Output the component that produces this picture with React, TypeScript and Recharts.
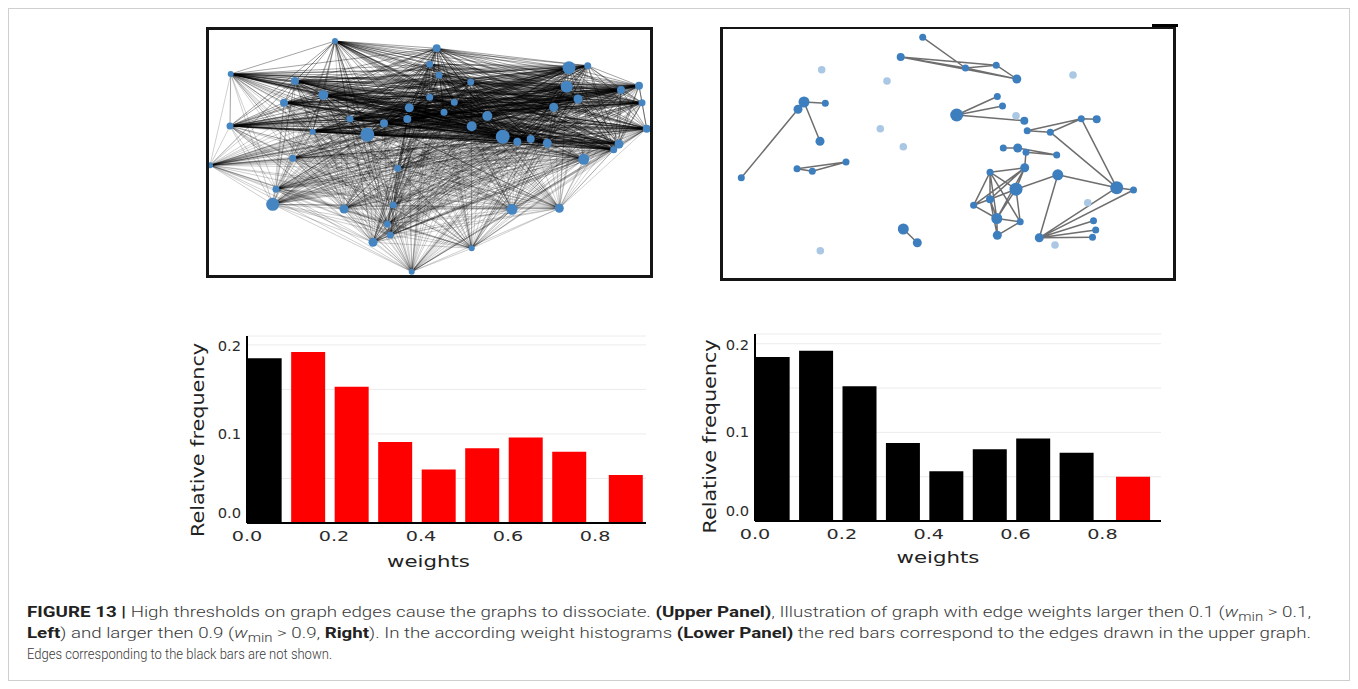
import React from 'react';
import {
  ComposedChart,
  Line,
  Scatter,
  XAxis,
  YAxis,
  BarChart,
  Bar,
  Cell,
  CartesianGrid,
  Label,
} from 'recharts';

// upper panel, left graph (w_min > 0.1): node layout in frame px
const denseX = [129, 24.7, 89, 117.3, 78, 24, 106.7, 144, 161.3, 178, 201.3, 203.3, 223.7, 223.7, 4, 86.7, 191.7, 70, 66.7, 138, 187.3, 181.3, 184.3, 167, 205.7,
  230.7, 233, 264.7, 248.3, 238, 281.3, 265.7, 296.7, 311.3, 324.7, 341.3, 363, 381.7, 360.7, 372, 347.7, 415, 433, 436, 440.7, 413, 407.7, 377.7, 306, 353.3, 265.7];
const denseY = [14, 47, 54, 68, 75.7, 99, 104.7, 92, 107.7, 96.3, 92, 80.7, 37.3, 70.3, 138.3, 131.3, 141.3, 162.3, 177.3, 182, 178, 197, 208, 215.3, 244.7,
  21.3, 48.3, 55, 75.3, 85.3, 89, 99.3, 109.7, 114.7, 112, 116.3, 40.7, 38.7, 59.7, 72, 80.3, 63, 58.7, 75.7, 101.7, 117, 122.7, 132.3, 182.3, 181.3, 221.3];
const denseSize = [3, 3, 4, 5, 4, 3.5, 3, 3.5, 7, 4, 4, 4.5, 3.5, 3.5, 3, 3.5, 3.5, 3.5, 6.5, 4.5, 3.5, 3.5, 3.5, 4.5, 3,
  4, 3.5, 3.5, 3.5, 3.5, 5, 5, 7, 4, 4, 4.5, 6.5, 3.5, 6, 4.5, 4.5, 4, 4, 3.5, 4, 4.5, 3.5, 5.5, 5.5, 4.5, 3];
// nodes above this line sit in the dark, strongly connected band
const CORE_BAND = 125;

// upper panel, right graph (w_min > 0.9)
const sparseX = [202.7, 180.7, 245.5, 276.2, 296.8, 84, 105.3, 78, 100, 126, 77, 92.3, 21.3, 183.3, 197.3, 236.7, 277.3, 282.5, 304.3, 307.2, 330.3,
  361.3, 376.7, 283.3, 297.7, 306, 336.7, 304.7, 270, 337.8, 296, 396.7, 413.5, 270, 253.6, 276.8, 300.2, 373.5, 375.7, 372.5, 277.3, 319.3];
const sparseY = [10.3, 30, 41, 38.2, 52, 75, 76.3, 82.3, 114.3, 135, 141.7, 144.3, 150.7, 202, 215.7, 88, 69.5, 79, 93.7, 103.8, 105.2,
  91.7, 92.2, 121, 121, 125.2, 128, 140.8, 145.2, 147.8, 162.2, 160.7, 163, 172.3, 178.3, 191.5, 194.8, 193.7, 203, 210.3, 208.3, 210.8];
const sparseSize = [3.5, 4, 3.5, 3.5, 4.5, 5.5, 3.5, 4.5, 4.5, 3.5, 3.5, 3.5, 3.5, 5.5, 4.5, 6.5, 3.5, 3.5, 4, 3.5, 3.5,
  3.5, 4, 3.5, 4.5, 3.5, 3.5, 4.5, 3.5, 5.5, 6.5, 6.5, 3.5, 4, 3.5, 5.5, 3.5, 3.5, 3.5, 3.5, 4.5, 4.5];
const sparseEdges = [
  [0, 2], [1, 2], [1, 3], [1, 4], [2, 3], [3, 4], [2, 4],
  [5, 6], [7, 12], [5, 8],
  [9, 10], [9, 11], [10, 11],
  [13, 14],
  [15, 16], [15, 17], [15, 18],
  [19, 21], [20, 21], [19, 20], [21, 22], [20, 31], [21, 31],
  [23, 24], [24, 26], [25, 26], [25, 27],
  [28, 27], [28, 34], [28, 33], [28, 30], [28, 35], [28, 36], [27, 33], [27, 30], [27, 35], [27, 34],
  [34, 33], [34, 35], [33, 35], [33, 30], [30, 35], [30, 36], [35, 40], [35, 36], [40, 36], [33, 40],
  [30, 29], [29, 31], [29, 41], [41, 31], [41, 32], [41, 37], [41, 38], [41, 39], [31, 32],
];
// nodes left without any edge above the threshold
const fadedX = [101.7, 167, 160.3, 183.3, 100.3, 353, 296, 367.7, 335];
const fadedY = [42.7, 54, 101.7, 119.7, 223.7, 48, 88.7, 175.7, 218];

// lower panel histograms
const weightBins = [0.04, 0.14, 0.24, 0.34, 0.44, 0.54, 0.64, 0.74, 0.87];
const freqLeft = [0.185, 0.192, 0.153, 0.091, 0.06, 0.084, 0.096, 0.08, 0.054];
const freqRight = [0.185, 0.192, 0.152, 0.088, 0.056, 0.081, 0.093, 0.077, 0.05];
const drawnLeft = [false, true, true, true, true, true, true, true, true];
const drawnRight = [false, false, false, false, false, false, false, false, true];
const yTicks = [0, 0.05, 0.1, 0.15, 0.2];
const xTicks = [0, 0.2, 0.4, 0.6, 0.8];

const NODE_BLUE = '#4585c2';
const NODE_FADED = '#aac8e4';

const denseNodes = denseX.map((x, i) => ({ x, y: denseY[i], r: denseSize[i] }));
const segs = (a: any, list: any[]) =>
  list.flatMap((b) => [
    { x: a.x, y: a.y },
    { x: b.x, y: b.y },
    { x: b.x, y: null },
  ]);
// one path per node and strength so the overlapping edges build up darkness
const denseStars: { data: any[]; strong: boolean }[] = [];
denseNodes.forEach((a, i) => {
  const rest = denseNodes.slice(i + 1);
  const inBand = (n: any) => n.y < CORE_BAND;
  const strong = rest.filter((b) => inBand(a) && inBand(b));
  const weak = rest.filter((b) => !(inBand(a) && inBand(b)));
  if (strong.length) denseStars.push({ data: segs(a, strong), strong: true });
  if (weak.length) denseStars.push({ data: segs(a, weak), strong: false });
});

const sparseNodes = sparseX.map((x, i) => ({ x, y: sparseY[i], r: sparseSize[i] }));
const fadedNodes = fadedX.map((x, i) => ({ x, y: fadedY[i], r: 3.8 }));
const sparseLinks = sparseEdges.flatMap(([a, b]) => segs(sparseNodes[a], [sparseNodes[b]]));

const nodeShape = (fill: string) => (props: any) => (
  <circle cx={props.cx} cy={props.cy} r={props.payload.r} fill={fill} />
);

function DenseGraph() {
  const w = 447;
  const h = 251;
  return (
    <ComposedChart width={w} height={h} margin={{ top: 0, right: 0, bottom: 0, left: 0 }}>
      <XAxis type="number" dataKey="x" domain={[0, w]} hide />
      <YAxis type="number" dataKey="y" domain={[0, h]} reversed hide />
      {denseStars.map((star, i) => (
        <Line
          key={i}
          data={star.data}
          dataKey="y"
          type="linear"
          stroke="#000"
          strokeOpacity={star.strong ? 0.36 : 0.19}
          strokeWidth={1}
          dot={false}
          activeDot={false}
          isAnimationActive={false}
        />
      ))}
      <Scatter data={denseNodes} dataKey="y" shape={nodeShape(NODE_BLUE)} isAnimationActive={false} />
    </ComposedChart>
  );
}

function SparseGraph() {
  const w = 456;
  const h = 254;
  return (
    <ComposedChart width={w} height={h} margin={{ top: 0, right: 0, bottom: 0, left: 0 }}>
      <XAxis type="number" dataKey="x" domain={[0, w]} hide />
      <YAxis type="number" dataKey="y" domain={[0, h]} reversed hide />
      <Line
        data={sparseLinks}
        dataKey="y"
        type="linear"
        stroke="#555"
        strokeOpacity={0.85}
        strokeWidth={1.5}
        dot={false}
        activeDot={false}
        isAnimationActive={false}
      />
      <Scatter data={fadedNodes} dataKey="y" shape={nodeShape(NODE_FADED)} isAnimationActive={false} />
      <Scatter data={sparseNodes} dataKey="y" shape={nodeShape('#3d7ebf')} isAnimationActive={false} />
    </ComposedChart>
  );
}

const TICK_FONT = { fontFamily: 'DejaVu Sans, sans-serif', fontSize: 14, fill: '#2b2b2b' };

const XTick = ({ x, y, payload }: any) => (
  <text transform={`translate(${x} ${y + 10.5}) scale(1.37 1)`} textAnchor="middle" dominantBaseline="central" {...TICK_FONT}>
    {Number(payload.value).toFixed(1)}
  </text>
);

const YTick = ({ x, y, payload }: any) => {
  const v = payload.value;
  if (v !== 0 && v !== 0.1 && v !== 0.2) return null;
  const shift = v === 0 ? -9.5 : v === 0.2 ? 1.5 : 0;
  return (
    <text transform={`translate(${x} ${y + shift}) scale(1.05 1)`} textAnchor="end" dominantBaseline="central" {...TICK_FONT}>
      {v.toFixed(1)}
    </text>
  );
};

interface HistProps {
  values: number[];
  drawn: boolean[];
  width: number;
  height: number;
  margin: { top: number; right: number; bottom: number; left: number };
  xMax: number;
  yMax: number;
  yTitleDx: number;
  yTitleDy: number;
  xTitleDx: number;
  xTitleY: number;
}

function Histogram(p: HistProps) {
  const data = weightBins.map((w, i) => ({ w, freq: p.values[i] }));
  return (
    <BarChart width={p.width} height={p.height} data={data} margin={p.margin}>
      <CartesianGrid vertical={false} stroke="#ececec" strokeWidth={1} />
      <XAxis
        type="number"
        dataKey="w"
        domain={[0, p.xMax]}
        ticks={xTicks}
        tick={<XTick />}
        tickLine={false}
        tickSize={0}
        height={57}
        axisLine={{ stroke: '#000', strokeWidth: 2 }}
      >
        <Label
          content={({ viewBox }: any) => (
            <text
              transform={`translate(${viewBox.x + viewBox.width / 2 + p.xTitleDx} ${p.xTitleY}) scale(1.42 1)`}
              textAnchor="middle"
              dominantBaseline="central"
              fontFamily="DejaVu Sans, sans-serif"
              fontSize={15}
              fill="#222"
            >
              weights
            </text>
          )}
        />
      </XAxis>
      <YAxis
        type="number"
        domain={[0, p.yMax]}
        ticks={yTicks}
        tick={<YTick />}
        tickLine={false}
        tickSize={0}
        tickMargin={6}
        width={60}
        axisLine={{ stroke: '#000', strokeWidth: 2 }}
      >
        <Label
          content={({ viewBox }: any) => (
            <text
              transform={`translate(${viewBox.x + p.yTitleDx} ${viewBox.y + viewBox.height / 2 + p.yTitleDy}) rotate(-90) scale(1.22 1)`}
              textAnchor="middle"
              dominantBaseline="central"
              fontFamily="DejaVu Sans, sans-serif"
              fontSize={17}
              fill="#222"
            >
              Relative frequency
            </text>
          )}
        />
      </YAxis>
      <Bar dataKey="freq" barSize={34} isAnimationActive={false}>
        {data.map((d, i) => (
          <Cell key={i} fill={p.drawn[i] ? '#ff0000' : '#000000'} />
        ))}
      </Bar>
    </BarChart>
  );
}

const B = ({ children }: { children: React.ReactNode }) => (
  <tspan fontWeight={700} fill="#222">
    {children}
  </tspan>
);
const Wmin = () => (
  <>
    <tspan fontStyle="italic">w</tspan>
    <tspan dy={3.5} fontSize={12}>
      min
    </tspan>
    <tspan dy={-3.5}> </tspan>
  </>
);

function Caption() {
  return (
    <svg width={1340} height={72} style={{ position: 'absolute', left: 0, top: 591 }}>
      <g fontFamily="Roboto, 'Liberation Sans', sans-serif" fontSize={15} fontWeight={300} fill="#3a3a3a">
        <text x={18} y={17} textLength={1284} lengthAdjust="spacingAndGlyphs">
          <B>FIGURE 13 |</B> High thresholds on graph edges cause the graphs to dissociate. <B>(Upper Panel)</B>, Illustration of graph
          with edge weights larger then 0.1 (<Wmin />&gt; 0.1,
        </text>
        <text x={18} y={38} textLength={1284} lengthAdjust="spacingAndGlyphs">
          <B>Left</B>) and larger then 0.9 (<Wmin />&gt; 0.9, <B>Right</B>). In the according weight histograms <B>(Lower Panel)</B> the red
          bars correspond to the edges drawn in the upper graph.
        </text>
        <text x={18} y={59} textLength={305} lengthAdjust="spacingAndGlyphs">
          Edges corresponding to the black bars are not shown.
        </text>
      </g>
    </svg>
  );
}

export default function App() {
  const abs = (left: number, top: number): React.CSSProperties => ({ position: 'absolute', left, top });
  return (
    <div
      style={{
        position: 'relative',
        width: 1340,
        height: 671,
        border: '1px solid #cfcfcf',
        background: '#fff',
      }}
    >
      <div style={abs(197, 18)}>
        <DenseGraph />
      </div>
      <div
        style={{ ...abs(197, 18), width: 447, height: 251, border: '3px solid #151515', boxSizing: 'border-box', pointerEvents: 'none' }}
      />

      <div style={abs(711, 18)}>
        <SparseGraph />
      </div>
      <div
        style={{
          ...abs(711, 18),
          width: 456,
          height: 254,
          borderStyle: 'solid',
          borderColor: '#151515',
          borderWidth: '2px 3px 3px 3px',
          boxSizing: 'border-box',
          pointerEvents: 'none',
        }}
      />
      <div style={{ ...abs(1143, 15), width: 26, height: 3, background: '#000' }} />

      <div style={abs(141, 311)}>
        <Histogram
          values={freqLeft}
          drawn={drawnLeft}
          width={510}
          height={260}
          margin={{ top: 16, right: 14, bottom: 0, left: 37 }}
          xMax={0.917}
          yMax={0.21}
          yTitleDx={11}
          yTitleDy={10.5}
          xTitleDx={-18}
          xTitleY={242}
        />
      </div>
      <div style={abs(651, 309)}>
        <Histogram
          values={freqRight}
          drawn={drawnRight}
          width={515}
          height={262}
          margin={{ top: 16, right: 14, bottom: 2, left: 35 }}
          xMax={0.935}
          yMax={0.211}
          yTitleDx={15}
          yTitleDy={9}
          xTitleDx={-20}
          xTitleY={240}
        />
      </div>

      <Caption />
    </div>
  );
}
